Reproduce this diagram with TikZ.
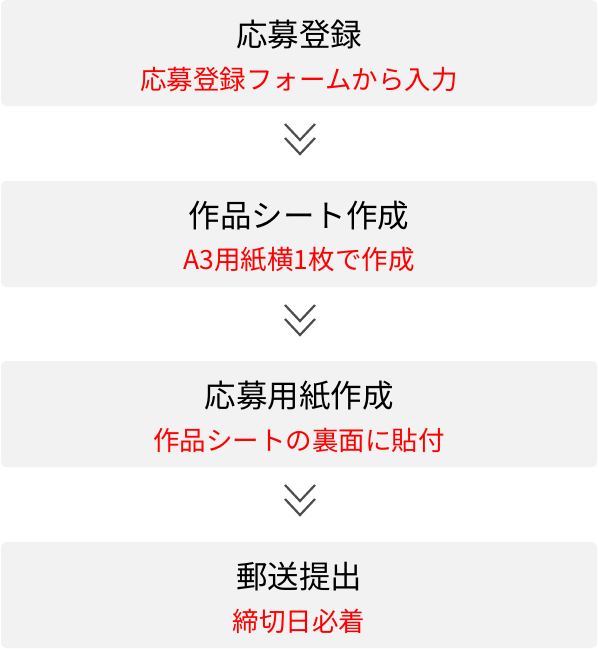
\documentclass[tikz,border=0pt]{standalone}
\usepackage{fontspec}
\setmainfont{Noto Sans CJK JP}
\definecolor{boxgray}{HTML}{F2F2F2}
\definecolor{chevgray}{HTML}{4D4D4D}
\tikzset{
  stepbox/.style={fill=boxgray, rounded corners=5pt, minimum width=596pt, minimum height=106pt, inner sep=0pt},
  steptitle/.style={font=\fontsize{31.5}{31.5}\selectfont, text=black, inner sep=0pt},
  stepnote/.style={font=\fontsize{26.5}{26.5}\selectfont, text=red, inner sep=0pt},
  chevron/.style={chevgray, line width=2.2pt}
}
\begin{document}
\begin{tikzpicture}[x=1pt, y=-1pt]
            \useasboundingbox (0, 0) rectangle (598, 649);
            \node[stepbox] (entry) at (299, 53) {};
            \node[stepbox] (sheet) at (299, 234) {};
            \node[stepbox] (form) at (299, 414) {};
            \node[stepbox] (mail) at (299, 595) {};
            \node[steptitle] (entrytitle) at (299, 35) {応募登録};
            \node[stepnote] (entrynote) at (299, 79) {応募登録フォームから入力};
            \node[steptitle] (sheettitle) at (299, 216) {作品シート作成};
            \node[stepnote] (sheetnote) at (299, 260) {A3用紙横1枚で作成};
            \node[steptitle] (formtitle) at (299, 396) {応募用紙作成};
            \node[stepnote] (formnote) at (299, 440) {作品シートの裏面に貼付};
            \node[steptitle] (mailtitle) at (299, 577) {郵送提出};
            \node[stepnote] (mailnote) at (299, 621) {締切日必着};
            \foreach \y in {106, 287, 467} {
                \draw[chevron] (285, \y+18) -- (300, \y+34) -- (315, \y+18);
                \draw[chevron] (285, \y+32) -- (300, \y+48) -- (315, \y+32);
            }
        \end{tikzpicture}
\end{document}
